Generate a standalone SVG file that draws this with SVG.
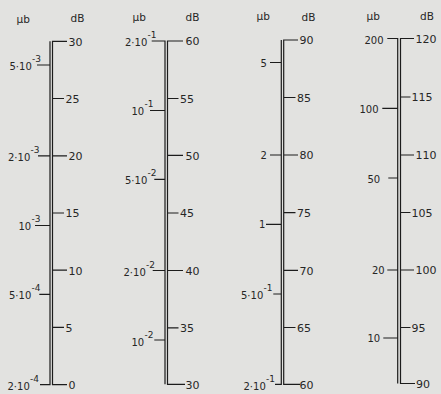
<svg xmlns="http://www.w3.org/2000/svg" width="441" height="394" viewBox="0 0 441 394">
<style>
.ln{stroke:#1c1c1c;stroke-width:1.2;fill:none}
text{font-family:"DejaVu Sans","Liberation Sans",sans-serif;fill:#262626}
.h{font-size:10.5px}
.r{font-size:11px}
.l{font-size:10px}
.s{font-size:9px}
</style>
<rect width="441" height="394" fill="#e2e2e0"/>

<g id="scale1">
<text class="h" x="16.5" y="22.5">µb</text>
<text class="h" x="70.5" y="22.3">dB</text>
<path class="ln" d="M67,41.3H52.5V384.7H67M50,41.3V384.7H40M52.5,98.5H64M52.5,155.8H67M52.5,213H64M52.5,270.2H67M52.5,327.4H64M37,65H50M38,155.8H50M35,225.5H50M39.3,294.3H50"/>
<text class="r" x="68.5" y="45.6">30</text>
<text class="r" x="65.5" y="102.8">25</text>
<text class="r" x="68.5" y="160.1">20</text>
<text class="r" x="65.5" y="217.3">15</text>
<text class="r" x="68.5" y="274.5">10</text>
<text class="r" x="65.5" y="331.7">5</text>
<text class="r" x="68.5" y="389">0</text>
<text class="l" x="9.5" y="70.3">5·10<tspan class="s" dx="0.3" dy="-8">-3</tspan></text>
<text class="l" x="8" y="160.8">2·10<tspan class="s" dx="0.3" dy="-8">-3</tspan></text>
<text class="l" x="18.5" y="230.3">10<tspan class="s" dx="0.3" dy="-8">-3</tspan></text>
<text class="l" x="9" y="299.2">5·10<tspan class="s" dx="0.3" dy="-8">-4</tspan></text>
<text class="l" x="7.5" y="389.8">2·10<tspan class="s" dx="0.3" dy="-8">-4</tspan></text>
</g>

<g id="scale2">
<text class="h" x="132.5" y="21">µb</text>
<text class="h" x="185.5" y="20.7">dB</text>
<path class="ln" d="M183,41H167.5V384.3H185M151.7,41H165V384.3M167.5,98.5H178.5M167.5,155.4H183M167.5,213H178.5M167.5,270.5H183M167.5,327.8H178.5M150,110.5H165M154.3,179.3H165M152.7,270.5H165M154.3,340H165"/>
<text class="r" x="185.5" y="45.3">60</text>
<text class="r" x="180" y="102.8">55</text>
<text class="r" x="185.5" y="159.7">50</text>
<text class="r" x="180" y="217.3">45</text>
<text class="r" x="185.5" y="274.8">40</text>
<text class="r" x="180" y="332.1">35</text>
<text class="r" x="185.5" y="388.6">30</text>
<text class="l" x="125" y="46">2·10<tspan class="s" dx="0.3" dy="-8.5">-1</tspan></text>
<text class="l" x="131.5" y="115">10<tspan class="s" dx="0.3" dy="-8">-1</tspan></text>
<text class="l" x="125" y="184.3">5·10<tspan class="s" dx="0.3" dy="-8">-2</tspan></text>
<text class="l" x="123.5" y="275.5">2·10<tspan class="s" dx="0.3" dy="-8">-2</tspan></text>
<text class="l" x="131.5" y="345.5">10<tspan class="s" dx="0.3" dy="-8">-2</tspan></text>
</g>

<g id="scale3">
<text class="h" x="256.5" y="19.5">µb</text>
<text class="h" x="301.5" y="20.5">dB</text>
<path class="ln" d="M298,40H283.7V384.3H300M281.3,40V384.3H275M283.7,97.5H295.5M283.7,155H298M283.7,212.7H295.5M283.7,270.3H298M283.7,327.5H295.5M270,62.5H281.3M270,155H281.3M266,224.3H281.3M273.3,294H281.3"/>
<text class="r" x="299.5" y="44.3">90</text>
<text class="r" x="297" y="101.8">85</text>
<text class="r" x="299.5" y="159.3">80</text>
<text class="r" x="297" y="217">75</text>
<text class="r" x="299.5" y="274.6">70</text>
<text class="r" x="297" y="331.8">65</text>
<text class="r" x="299.5" y="388.6">60</text>
<text class="l" x="260.5" y="66.5">5</text>
<text class="l" x="260.5" y="159.3">2</text>
<text class="l" x="259" y="228.3">1</text>
<text class="l" x="241" y="298.5">5·10<tspan class="s" dx="0.3" dy="-8">-1</tspan></text>
<text class="l" x="243.5" y="389.8">2·10<tspan class="s" dx="0.3" dy="-8">-1</tspan></text>
</g>

<g id="scale4">
<text class="h" x="366.5" y="19.5">µb</text>
<text class="h" x="420" y="20">dB</text>
<path class="ln" d="M414,38.5H400.5V383.5H415M387.3,38.5H397.7V383.5M400.5,97H410.5M400.5,155H414M400.5,212.5H410.5M400.5,270H414M400.5,327.5H410.5M382.3,108.3H397.7M388.3,178H397.7M387.3,270H397.7M383.3,338H397.7"/>
<text class="r" x="415.5" y="42.8">120</text>
<text class="r" x="411.5" y="101.3">115</text>
<text class="r" x="415.5" y="159.3">110</text>
<text class="r" x="411.5" y="216.8">105</text>
<text class="r" x="415.5" y="274.3">100</text>
<text class="r" x="411.5" y="331.8">95</text>
<text class="r" x="416" y="387.8">90</text>
<text class="l" x="364.5" y="43.5">200</text>
<text class="l" x="359.5" y="113">100</text>
<text class="l" x="367.5" y="182.5">50</text>
<text class="l" x="372" y="274.3">20</text>
<text class="l" x="367.5" y="342">10</text>
</g>
</svg>
